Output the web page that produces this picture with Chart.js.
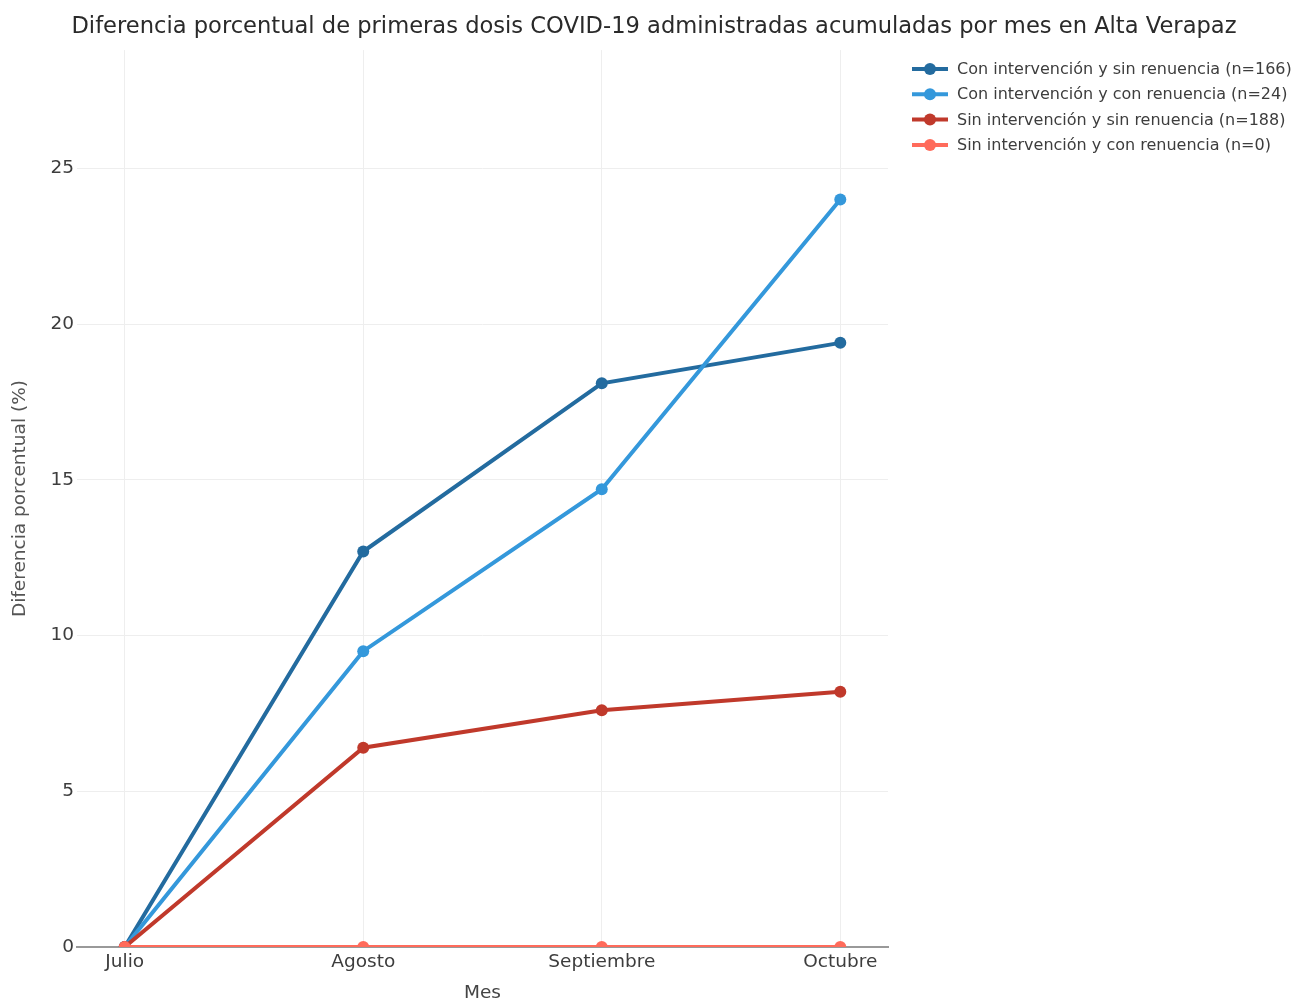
<!DOCTYPE html>
<html>
<head>
<meta charset="utf-8">
<script src="https://cdn.jsdelivr.net/npm/chart.js@4/dist/chart.umd.min.js"></script>
<style>
  body { margin: 0; background: #fff; }
  #wrap { width: 1294px; height: 1002px; }
</style>
</head>
<body>
<div id="wrap"><canvas id="chart"></canvas></div>
<script>
// Meses (eje x) y valores
const meses = ["Julio", "Agosto", "Septiembre", "Octubre"];
const conIntSinRen = [0, 12.7, 18.1, 19.4];
const conIntConRen = [0, 9.5, 14.7, 24.0];
const sinIntSinRen = [0, 6.4, 7.6, 8.2];
const sinIntConRen = [0, 0, 0, 0];
const nombres = [
    "Con intervención y sin renuencia (n=166)",
    "Con intervención y con renuencia (n=24)",
    "Sin intervención y sin renuencia (n=188)",
    "Sin intervención y con renuencia (n=0)"
];
const colores = ["#236b9f", "#3498db", "#c0392b", "#ff6b5b"];

const FONT = "'DejaVu Sans', Verdana, sans-serif";
const series = [conIntSinRen, conIntConRen, sinIntSinRen, sinIntConRen];

const datasets = series.map((vals, i) => ({
    label: nombres[i],
    data: vals.map((v, j) => ({ x: j, y: v })),
    borderColor: colores[i],
    backgroundColor: colores[i],
    borderWidth: 4,
    pointRadius: 6,
    pointBorderWidth: 0,
    pointBackgroundColor: colores[i],
    clip: 0,
    order: series.length - i
}));

// Leyenda dibujada a mano: linea con punto, como en el original
const legendPlugin = {
    id: "legendaLinea",
    afterDraw(chart) {
        const ctx = chart.ctx;
        ctx.save();
        chart.data.datasets.forEach((ds, i) => {
            const y = 69 + i * 25.3;
            ctx.strokeStyle = ds.borderColor;
            ctx.lineWidth = 4;
            ctx.beginPath();
            ctx.moveTo(912, y);
            ctx.lineTo(948, y);
            ctx.stroke();
            ctx.fillStyle = ds.borderColor;
            ctx.beginPath();
            ctx.arc(930, y, 6, 0, Math.PI * 2);
            ctx.fill();
            ctx.fillStyle = "#3d3d3d";
            ctx.font = "16px " + FONT;
            ctx.textBaseline = "middle";
            ctx.textAlign = "left";
            ctx.fillText(ds.label, 957, y + 1);
        });
        ctx.restore();
    }
};

new Chart(document.getElementById("chart"), {
    type: "line",
    data: { datasets },
    plugins: [legendPlugin],
    options: {
        responsive: true,
        maintainAspectRatio: false,
        animation: false,
        layout: { padding: { left: 14 } },
        plugins: {
            legend: { display: false },
            tooltip: { enabled: false },
            title: {
                display: true,
                text: "Diferencia porcentual de primeras dosis COVID-19 administradas acumuladas por mes en Alta Verapaz",
                color: "#2a2a2a",
                font: { family: FONT, size: 22.6, weight: "normal" },
                padding: { top: 14, bottom: 9 }
            }
        },
        scales: {
            x: {
                type: "linear",
                min: -0.2,
                max: 3.2,
                afterFit: s => { s.height = 55; },
                ticks: {
                    stepSize: 1,
                    includeBounds: false,
                    autoSkip: false,
                    maxRotation: 0,
                    padding: 4,
                    color: "#3d3d3d",
                    font: { family: FONT, size: 18.5 },
                    callback: v => meses[v]
                },
                grid: { color: "#eeeeee", lineWidth: 1, drawTicks: false },
                border: { display: true, color: "#999", width: 2 },
                title: {
                    display: true,
                    text: "Mes",
                    color: "#444",
                    font: { family: FONT, size: 18.5 },
                    padding: { top: 0, bottom: -2 }
                }
            },
            y: {
                type: "linear",
                min: 0,
                max: 28.8,
                afterFit: s => { s.width = 63; },
                ticks: {
                    stepSize: 5,
                    includeBounds: false,
                    padding: 3,
                    color: "#3d3d3d",
                    font: { family: FONT, size: 18.5 }
                },
                grid: { color: "#eeeeee", lineWidth: 1, drawTicks: false },
                border: { display: false },
                title: {
                    display: true,
                    text: "Diferencia porcentual (%)",
                    color: "#555",
                    font: { family: FONT, size: 18.5 },
                    padding: { top: -5, bottom: 0 }
                }
            },
            espacioLeyenda: {
                type: "linear",
                axis: "y",
                position: "right",
                afterFit: s => { s.width = 406; },
                grid: { display: false },
                border: { display: false },
                ticks: { display: false }
            }
        }
    }
});
</script>
</body>
</html>
